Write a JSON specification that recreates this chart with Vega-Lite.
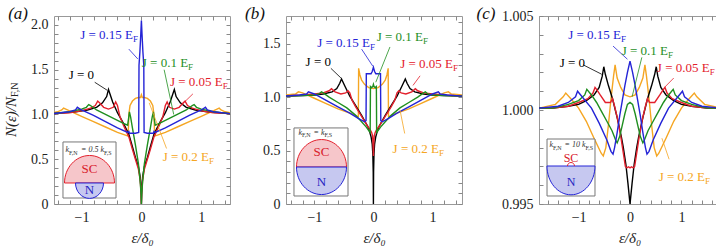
{
"$schema":"https://vega.github.io/schema/vega-lite/v6.json",
"background":"white",
"padding":{"left":3,"top":4,"right":0,"bottom":0},
"spacing":13,
"config":{
 "font":"Liberation Serif, Times New Roman, DejaVu Serif, serif",
 "view":{"stroke":"#999","strokeWidth":1},
 "axis":{"domain":false,"grid":false,"labelFont":"Liberation Serif, Times New Roman, DejaVu Serif, serif","labelFontSize":14,"labelColor":"#222","tickColor":"#888","tickSize":-4,"labelPadding":10,"labelOverlap":false,"labelFlush":false,"titleFont":"Liberation Serif, Times New Roman, DejaVu Serif, serif","titleFontSize":15,"titleFontStyle":"italic","titleFontWeight":"normal","titleColor":"#222","titlePadding":6},
 "text":{"font":"Liberation Serif, Times New Roman, DejaVu Serif, serif"}
},
"datasets":{
"aL":[
{"J":"0.2","x":-1.48,"y":1.02},{"J":"0.2","x":-1.4,"y":1.03},{"J":"0.2","x":-1.33,"y":1.05},{"J":"0.2","x":-1.3,"y":1.07},{"J":"0.2","x":-1.2,"y":1.04},{"J":"0.2","x":-1.0,"y":0.98},{"J":"0.2","x":-0.8,"y":0.92},{"J":"0.2","x":-0.6,"y":0.86},{"J":"0.2","x":-0.4,"y":0.8},{"J":"0.2","x":-0.23,"y":0.76},{"J":"0.2","x":-0.22,"y":0.78},{"J":"0.2","x":-0.21,"y":1.0},{"J":"0.2","x":-0.19,"y":1.1},{"J":"0.2","x":-0.15,"y":1.15},{"J":"0.2","x":-0.1,"y":1.18},{"J":"0.2","x":-0.05,"y":1.19},{"J":"0.2","x":-0.015,"y":1.19},{"J":"0.2","x":0,"y":1.22},{"J":"0.2","x":0.015,"y":1.19},{"J":"0.2","x":0.05,"y":1.19},{"J":"0.2","x":0.1,"y":1.18},{"J":"0.2","x":0.15,"y":1.15},{"J":"0.2","x":0.19,"y":1.1},{"J":"0.2","x":0.21,"y":1.0},{"J":"0.2","x":0.22,"y":0.78},{"J":"0.2","x":0.23,"y":0.76},{"J":"0.2","x":0.4,"y":0.8},{"J":"0.2","x":0.6,"y":0.86},{"J":"0.2","x":0.8,"y":0.92},{"J":"0.2","x":1.0,"y":0.98},{"J":"0.2","x":1.2,"y":1.04},{"J":"0.2","x":1.3,"y":1.07},{"J":"0.2","x":1.33,"y":1.05},{"J":"0.2","x":1.4,"y":1.03},{"J":"0.2","x":1.48,"y":1.02},
{"J":"0","x":-1.48,"y":1.01},{"J":"0","x":-1.3,"y":1.02},{"J":"0","x":-1.1,"y":1.03},{"J":"0","x":-0.9,"y":1.05},{"J":"0","x":-0.75,"y":1.08},{"J":"0","x":-0.65,"y":1.13},{"J":"0","x":-0.58,"y":1.2},{"J":"0","x":-0.55,"y":1.28},{"J":"0","x":-0.48,"y":1.14},{"J":"0","x":-0.4,"y":1.02},{"J":"0","x":-0.3,"y":0.9},{"J":"0","x":-0.21,"y":0.78},{"J":"0","x":-0.15,"y":0.64},{"J":"0","x":-0.1,"y":0.52},{"J":"0","x":-0.05,"y":0.42},{"J":"0","x":-0.02,"y":0.3},{"J":"0","x":-0.005,"y":0.15},{"J":"0","x":0,"y":0},{"J":"0","x":0.005,"y":0.15},{"J":"0","x":0.02,"y":0.3},{"J":"0","x":0.05,"y":0.42},{"J":"0","x":0.1,"y":0.52},{"J":"0","x":0.15,"y":0.64},{"J":"0","x":0.21,"y":0.78},{"J":"0","x":0.3,"y":0.9},{"J":"0","x":0.4,"y":1.02},{"J":"0","x":0.48,"y":1.14},{"J":"0","x":0.55,"y":1.28},{"J":"0","x":0.58,"y":1.2},{"J":"0","x":0.65,"y":1.13},{"J":"0","x":0.75,"y":1.08},{"J":"0","x":0.9,"y":1.05},{"J":"0","x":1.1,"y":1.03},{"J":"0","x":1.3,"y":1.02},{"J":"0","x":1.48,"y":1.01},
{"J":"0.05","x":-1.48,"y":1.01},{"J":"0.05","x":-1.2,"y":1.02},{"J":"0.05","x":-1.0,"y":1.04},{"J":"0.05","x":-0.85,"y":1.07},{"J":"0.05","x":-0.77,"y":1.1},{"J":"0.05","x":-0.73,"y":1.15},{"J":"0.05","x":-0.7,"y":1.13},{"J":"0.05","x":-0.63,"y":1.08},{"J":"0.05","x":-0.55,"y":1.06},{"J":"0.05","x":-0.47,"y":1.08},{"J":"0.05","x":-0.43,"y":1.14},{"J":"0.05","x":-0.4,"y":1.1},{"J":"0.05","x":-0.36,"y":0.98},{"J":"0.05","x":-0.3,"y":0.88},{"J":"0.05","x":-0.21,"y":0.75},{"J":"0.05","x":-0.15,"y":0.61},{"J":"0.05","x":-0.1,"y":0.5},{"J":"0.05","x":-0.05,"y":0.39},{"J":"0.05","x":-0.02,"y":0.27},{"J":"0.05","x":-0.005,"y":0.12},{"J":"0.05","x":0,"y":0},{"J":"0.05","x":0.005,"y":0.12},{"J":"0.05","x":0.02,"y":0.27},{"J":"0.05","x":0.05,"y":0.39},{"J":"0.05","x":0.1,"y":0.5},{"J":"0.05","x":0.15,"y":0.61},{"J":"0.05","x":0.21,"y":0.75},{"J":"0.05","x":0.3,"y":0.88},{"J":"0.05","x":0.36,"y":0.98},{"J":"0.05","x":0.4,"y":1.1},{"J":"0.05","x":0.43,"y":1.14},{"J":"0.05","x":0.47,"y":1.08},{"J":"0.05","x":0.55,"y":1.06},{"J":"0.05","x":0.63,"y":1.08},{"J":"0.05","x":0.7,"y":1.13},{"J":"0.05","x":0.73,"y":1.15},{"J":"0.05","x":0.77,"y":1.1},{"J":"0.05","x":0.85,"y":1.07},{"J":"0.05","x":1.0,"y":1.04},{"J":"0.05","x":1.2,"y":1.02},{"J":"0.05","x":1.48,"y":1.01},
{"J":"0.1","x":-1.48,"y":1.01},{"J":"0.1","x":-1.2,"y":1.03},{"J":"0.1","x":-1.0,"y":1.06},{"J":"0.1","x":-0.92,"y":1.08},{"J":"0.1","x":-0.88,"y":1.11},{"J":"0.1","x":-0.85,"y":1.1},{"J":"0.1","x":-0.75,"y":1.05},{"J":"0.1","x":-0.6,"y":1.0},{"J":"0.1","x":-0.45,"y":0.95},{"J":"0.1","x":-0.3,"y":0.9},{"J":"0.1","x":-0.23,"y":0.88},{"J":"0.1","x":-0.215,"y":0.95},{"J":"0.1","x":-0.2,"y":1.03},{"J":"0.1","x":-0.18,"y":0.97},{"J":"0.1","x":-0.15,"y":0.85},{"J":"0.1","x":-0.1,"y":0.66},{"J":"0.1","x":-0.05,"y":0.45},{"J":"0.1","x":-0.02,"y":0.25},{"J":"0.1","x":-0.005,"y":0.1},{"J":"0.1","x":0,"y":0},{"J":"0.1","x":0.005,"y":0.1},{"J":"0.1","x":0.02,"y":0.25},{"J":"0.1","x":0.05,"y":0.45},{"J":"0.1","x":0.1,"y":0.66},{"J":"0.1","x":0.15,"y":0.85},{"J":"0.1","x":0.18,"y":0.97},{"J":"0.1","x":0.2,"y":1.03},{"J":"0.1","x":0.215,"y":0.95},{"J":"0.1","x":0.23,"y":0.88},{"J":"0.1","x":0.3,"y":0.9},{"J":"0.1","x":0.45,"y":0.95},{"J":"0.1","x":0.6,"y":1.0},{"J":"0.1","x":0.75,"y":1.05},{"J":"0.1","x":0.85,"y":1.1},{"J":"0.1","x":0.88,"y":1.11},{"J":"0.1","x":0.92,"y":1.08},{"J":"0.1","x":1.0,"y":1.06},{"J":"0.1","x":1.2,"y":1.03},{"J":"0.1","x":1.48,"y":1.01},
{"J":"0.15","x":-1.48,"y":1.01},{"J":"0.15","x":-1.2,"y":1.03},{"J":"0.15","x":-1.1,"y":1.05},{"J":"0.15","x":-1.07,"y":1.08},{"J":"0.15","x":-1.0,"y":1.05},{"J":"0.15","x":-0.8,"y":0.99},{"J":"0.15","x":-0.6,"y":0.92},{"J":"0.15","x":-0.4,"y":0.85},{"J":"0.15","x":-0.23,"y":0.8},{"J":"0.15","x":-0.21,"y":0.81},{"J":"0.15","x":-0.2,"y":0.79},{"J":"0.15","x":-0.1,"y":0.79},{"J":"0.15","x":-0.045,"y":0.8},{"J":"0.15","x":-0.04,"y":1.55},{"J":"0.15","x":-0.025,"y":1.7},{"J":"0.15","x":-0.01,"y":1.9},{"J":"0.15","x":0,"y":2.05},{"J":"0.15","x":0.01,"y":1.9},{"J":"0.15","x":0.025,"y":1.7},{"J":"0.15","x":0.04,"y":1.55},{"J":"0.15","x":0.045,"y":0.8},{"J":"0.15","x":0.1,"y":0.79},{"J":"0.15","x":0.2,"y":0.79},{"J":"0.15","x":0.21,"y":0.81},{"J":"0.15","x":0.23,"y":0.8},{"J":"0.15","x":0.4,"y":0.85},{"J":"0.15","x":0.6,"y":0.92},{"J":"0.15","x":0.8,"y":0.99},{"J":"0.15","x":1.0,"y":1.05},{"J":"0.15","x":1.07,"y":1.08},{"J":"0.15","x":1.1,"y":1.05},{"J":"0.15","x":1.2,"y":1.03},{"J":"0.15","x":1.48,"y":1.01}
],
"aA":[
{"J":"0.15","x":-0.21,"y":1.73,"x2":-0.06,"y2":1.62},
{"J":"0.1","x":0.38,"y":1.5,"x2":0.54,"y2":1.0},
{"J":"0.05","x":0.86,"y":1.23,"x2":0.69,"y2":1.12},
{"J":"0","x":-0.78,"y":1.36,"x2":-0.57,"y2":1.27},
{"J":"0.2","x":0.42,"y":0.62,"x2":0.13,"y2":1.13}
],
"aT":[
{"J":"0.15","x":-0.14,"y":1.888,"m":"J = 0.15 E","s":"F"},
{"J":"0.1","x":0.78,"y":1.575,"m":"J = 0.1 E","s":"F"},
{"J":"0.05","x":1.36,"y":1.363,"m":"J = 0.05 E","s":"F"},
{"J":"0","x":-0.79,"y":1.441,"m":"J = 0","s":""},
{"J":"0.2","x":1.13,"y":0.525,"m":"J = 0.2 E","s":"F"}
],
"aI":[
{"k":"hm","x":-1.21,"y":0.603,"t":"k"},
{"k":"hs","x":-1.21,"y":0.603,"t":"F,N"},
{"k":"hm","x":-0.625,"y":0.603,"t":" = 0.5 k"},
{"k":"hs","x":-0.625,"y":0.603,"t":"F,S"},
{"k":"SC","x":-0.867,"y":0.391,"t":"SC"},
{"k":"N","x":-0.867,"y":0.156,"t":"N"},
{"k":"lt","x":-2.06,"y":2.122,"t":"(a)"},
{"k":"ym","x":-2.178,"y":1.195,"t":"N(ε)/N"},
{"k":"ys","x":-2.178,"y":1.195,"t":"F,N"}
],
"aB":[{"x":-1.31,"y":0.693,"x2":-0.424,"y2":0.067}],
"aP":[{"x":-0.867,"y":0.2346}],
"bL":[
{"J":"0.2","x":-1.5,"y":1.02},{"J":"0.2","x":-1.32,"y":1.03},{"J":"0.2","x":-1.27,"y":1.05},{"J":"0.2","x":-1.2,"y":1.04},{"J":"0.2","x":-1.0,"y":0.99},{"J":"0.2","x":-0.8,"y":0.94},{"J":"0.2","x":-0.6,"y":0.89},{"J":"0.2","x":-0.4,"y":0.85},{"J":"0.2","x":-0.27,"y":0.82},{"J":"0.2","x":-0.255,"y":0.82},{"J":"0.2","x":-0.25,"y":1.27},{"J":"0.2","x":-0.23,"y":1.21},{"J":"0.2","x":-0.2,"y":1.16},{"J":"0.2","x":-0.15,"y":1.12},{"J":"0.2","x":-0.08,"y":1.09},{"J":"0.2","x":0,"y":1.08},{"J":"0.2","x":0.08,"y":1.09},{"J":"0.2","x":0.15,"y":1.12},{"J":"0.2","x":0.2,"y":1.16},{"J":"0.2","x":0.23,"y":1.21},{"J":"0.2","x":0.25,"y":1.27},{"J":"0.2","x":0.255,"y":0.82},{"J":"0.2","x":0.27,"y":0.82},{"J":"0.2","x":0.4,"y":0.85},{"J":"0.2","x":0.6,"y":0.89},{"J":"0.2","x":0.8,"y":0.94},{"J":"0.2","x":1.0,"y":0.99},{"J":"0.2","x":1.2,"y":1.04},{"J":"0.2","x":1.27,"y":1.05},{"J":"0.2","x":1.32,"y":1.03},{"J":"0.2","x":1.5,"y":1.02},
{"J":"0","x":-1.5,"y":1.01},{"J":"0","x":-1.2,"y":1.015},{"J":"0","x":-1.0,"y":1.02},{"J":"0","x":-0.85,"y":1.03},{"J":"0","x":-0.7,"y":1.05},{"J":"0","x":-0.62,"y":1.08},{"J":"0","x":-0.57,"y":1.13},{"J":"0","x":-0.54,"y":1.17},{"J":"0","x":-0.48,"y":1.1},{"J":"0","x":-0.4,"y":1.01},{"J":"0","x":-0.3,"y":0.92},{"J":"0","x":-0.2,"y":0.83},{"J":"0","x":-0.1,"y":0.73},{"J":"0","x":-0.07,"y":0.69},{"J":"0","x":-0.04,"y":0.63},{"J":"0","x":-0.02,"y":0.56},{"J":"0","x":-0.01,"y":0.47},{"J":"0","x":-0.003,"y":0.3},{"J":"0","x":0,"y":0},{"J":"0","x":0.003,"y":0.3},{"J":"0","x":0.01,"y":0.47},{"J":"0","x":0.02,"y":0.56},{"J":"0","x":0.04,"y":0.63},{"J":"0","x":0.07,"y":0.69},{"J":"0","x":0.1,"y":0.73},{"J":"0","x":0.2,"y":0.83},{"J":"0","x":0.3,"y":0.92},{"J":"0","x":0.4,"y":1.01},{"J":"0","x":0.48,"y":1.1},{"J":"0","x":0.54,"y":1.17},{"J":"0","x":0.57,"y":1.13},{"J":"0","x":0.62,"y":1.08},{"J":"0","x":0.7,"y":1.05},{"J":"0","x":0.85,"y":1.03},{"J":"0","x":1.0,"y":1.02},{"J":"0","x":1.2,"y":1.015},{"J":"0","x":1.5,"y":1.01},
{"J":"0.05","x":-1.5,"y":1.01},{"J":"0.05","x":-1.2,"y":1.02},{"J":"0.05","x":-1.0,"y":1.03},{"J":"0.05","x":-0.85,"y":1.04},{"J":"0.05","x":-0.75,"y":1.06},{"J":"0.05","x":-0.71,"y":1.08},{"J":"0.05","x":-0.65,"y":1.05},{"J":"0.05","x":-0.55,"y":1.03},{"J":"0.05","x":-0.47,"y":1.04},{"J":"0.05","x":-0.43,"y":1.06},{"J":"0.05","x":-0.4,"y":1.04},{"J":"0.05","x":-0.36,"y":0.97},{"J":"0.05","x":-0.3,"y":0.91},{"J":"0.05","x":-0.2,"y":0.82},{"J":"0.05","x":-0.1,"y":0.73},{"J":"0.05","x":-0.06,"y":0.7},{"J":"0.05","x":-0.03,"y":0.67},{"J":"0.05","x":-0.015,"y":0.64},{"J":"0.05","x":-0.008,"y":0.58},{"J":"0.05","x":-0.003,"y":0.5},{"J":"0.05","x":0,"y":0.45},{"J":"0.05","x":0.003,"y":0.5},{"J":"0.05","x":0.008,"y":0.58},{"J":"0.05","x":0.015,"y":0.64},{"J":"0.05","x":0.03,"y":0.67},{"J":"0.05","x":0.06,"y":0.7},{"J":"0.05","x":0.1,"y":0.73},{"J":"0.05","x":0.2,"y":0.82},{"J":"0.05","x":0.3,"y":0.91},{"J":"0.05","x":0.36,"y":0.97},{"J":"0.05","x":0.4,"y":1.04},{"J":"0.05","x":0.43,"y":1.06},{"J":"0.05","x":0.47,"y":1.04},{"J":"0.05","x":0.55,"y":1.03},{"J":"0.05","x":0.65,"y":1.05},{"J":"0.05","x":0.71,"y":1.08},{"J":"0.05","x":0.75,"y":1.06},{"J":"0.05","x":0.85,"y":1.04},{"J":"0.05","x":1.0,"y":1.03},{"J":"0.05","x":1.2,"y":1.02},{"J":"0.05","x":1.5,"y":1.01},
{"J":"0.1","x":-1.5,"y":1.01},{"J":"0.1","x":-1.2,"y":1.015},{"J":"0.1","x":-1.0,"y":1.02},{"J":"0.1","x":-0.92,"y":1.03},{"J":"0.1","x":-0.88,"y":1.05},{"J":"0.1","x":-0.85,"y":1.04},{"J":"0.1","x":-0.75,"y":1.0},{"J":"0.1","x":-0.6,"y":0.95},{"J":"0.1","x":-0.45,"y":0.9},{"J":"0.1","x":-0.3,"y":0.83},{"J":"0.1","x":-0.2,"y":0.77},{"J":"0.1","x":-0.12,"y":0.72},{"J":"0.1","x":-0.07,"y":0.68},{"J":"0.1","x":-0.055,"y":0.67},{"J":"0.1","x":-0.05,"y":1.1},{"J":"0.1","x":-0.03,"y":1.09},{"J":"0.1","x":-0.01,"y":1.1},{"J":"0.1","x":0,"y":1.12},{"J":"0.1","x":0.01,"y":1.1},{"J":"0.1","x":0.03,"y":1.09},{"J":"0.1","x":0.05,"y":1.1},{"J":"0.1","x":0.055,"y":0.67},{"J":"0.1","x":0.07,"y":0.68},{"J":"0.1","x":0.12,"y":0.72},{"J":"0.1","x":0.2,"y":0.77},{"J":"0.1","x":0.3,"y":0.83},{"J":"0.1","x":0.45,"y":0.9},{"J":"0.1","x":0.6,"y":0.95},{"J":"0.1","x":0.75,"y":1.0},{"J":"0.1","x":0.85,"y":1.04},{"J":"0.1","x":0.88,"y":1.05},{"J":"0.1","x":0.92,"y":1.03},{"J":"0.1","x":1.0,"y":1.02},{"J":"0.1","x":1.2,"y":1.015},{"J":"0.1","x":1.5,"y":1.01},
{"J":"0.15","x":-1.5,"y":1.01},{"J":"0.15","x":-1.25,"y":1.02},{"J":"0.15","x":-1.13,"y":1.03},{"J":"0.15","x":-1.1,"y":1.05},{"J":"0.15","x":-1.0,"y":1.03},{"J":"0.15","x":-0.8,"y":0.97},{"J":"0.15","x":-0.6,"y":0.91},{"J":"0.15","x":-0.4,"y":0.85},{"J":"0.15","x":-0.25,"y":0.8},{"J":"0.15","x":-0.15,"y":0.77},{"J":"0.15","x":-0.125,"y":0.78},{"J":"0.15","x":-0.12,"y":1.22},{"J":"0.15","x":-0.04,"y":1.22},{"J":"0.15","x":-0.02,"y":1.24},{"J":"0.15","x":0,"y":1.28},{"J":"0.15","x":0.02,"y":1.24},{"J":"0.15","x":0.04,"y":1.22},{"J":"0.15","x":0.12,"y":1.22},{"J":"0.15","x":0.125,"y":0.78},{"J":"0.15","x":0.15,"y":0.77},{"J":"0.15","x":0.25,"y":0.8},{"J":"0.15","x":0.4,"y":0.85},{"J":"0.15","x":0.6,"y":0.91},{"J":"0.15","x":0.8,"y":0.97},{"J":"0.15","x":1.0,"y":1.03},{"J":"0.15","x":1.1,"y":1.05},{"J":"0.15","x":1.13,"y":1.03},{"J":"0.15","x":1.25,"y":1.02},{"J":"0.15","x":1.5,"y":1.01}
],
"bA":[
{"J":"0.15","x":-0.2,"y":1.45,"x2":-0.01,"y2":1.29},
{"J":"0.1","x":0.28,"y":1.47,"x2":0.04,"y2":1.14},
{"J":"0.05","x":0.79,"y":1.2,"x2":0.67,"y2":1.11},
{"J":"0","x":-0.72,"y":1.27,"x2":-0.55,"y2":1.18},
{"J":"0.2","x":0.53,"y":0.66,"x2":0.45,"y2":0.88}
],
"bT":[
{"J":"0.15","x":-0.058,"y":1.507,"m":"J = 0.15 E","s":"F"},
{"J":"0.1","x":0.84,"y":1.564,"m":"J = 0.1 E","s":"F"},
{"J":"0.05","x":1.348,"y":1.311,"m":"J = 0.05 E","s":"F"},
{"J":"0","x":-0.718,"y":1.33,"m":"J = 0","s":""},
{"J":"0.2","x":1.11,"y":0.515,"m":"J = 0.2 E","s":"F"}
],
"bI":[
{"k":"hm","x":-1.209,"y":0.665,"t":"k"},
{"k":"hs","x":-1.209,"y":0.665,"t":"F,N"},
{"k":"hm","x":-0.828,"y":0.665,"t":" = k"},
{"k":"hs","x":-0.828,"y":0.665,"t":"F,S"},
{"k":"SC","x":-0.879,"y":0.487,"t":"SC"},
{"k":"N","x":-0.879,"y":0.206,"t":"N"},
{"k":"lt","x":-2.005,"y":1.779,"t":"(b)"}
],
"bB":[{"x":-1.345,"y":0.712,"x2":-0.43,"y2":0.075}],
"bP":[{"x":-0.879,"y":0.346}],
"cL":[
{"J":"0.2","x":-1.77,"y":1.0001},{"J":"0.2","x":-1.45,"y":1.0003},{"J":"0.2","x":-1.3,"y":1.0007},{"J":"0.2","x":-1.25,"y":1.0009},{"J":"0.2","x":-1.15,"y":1.0006},{"J":"0.2","x":-1.0,"y":1.0001},{"J":"0.2","x":-0.85,"y":0.9994},{"J":"0.2","x":-0.7,"y":0.9985},{"J":"0.2","x":-0.56,"y":0.9977},{"J":"0.2","x":-0.52,"y":0.99755},{"J":"0.2","x":-0.47,"y":0.998},{"J":"0.2","x":-0.42,"y":0.9992},{"J":"0.2","x":-0.37,"y":1.0006},{"J":"0.2","x":-0.32,"y":1.0018},{"J":"0.2","x":-0.29,"y":1.0024},{"J":"0.2","x":-0.25,"y":1.0017},{"J":"0.2","x":-0.18,"y":1.0012},{"J":"0.2","x":-0.1,"y":1.0008},{"J":"0.2","x":0,"y":1.0007},{"J":"0.2","x":0.1,"y":1.0008},{"J":"0.2","x":0.18,"y":1.0012},{"J":"0.2","x":0.25,"y":1.0017},{"J":"0.2","x":0.29,"y":1.0024},{"J":"0.2","x":0.32,"y":1.0018},{"J":"0.2","x":0.37,"y":1.0006},{"J":"0.2","x":0.42,"y":0.9992},{"J":"0.2","x":0.47,"y":0.998},{"J":"0.2","x":0.52,"y":0.99755},{"J":"0.2","x":0.56,"y":0.9977},{"J":"0.2","x":0.7,"y":0.9985},{"J":"0.2","x":0.85,"y":0.9994},{"J":"0.2","x":1.0,"y":1.0001},{"J":"0.2","x":1.15,"y":1.0006},{"J":"0.2","x":1.25,"y":1.0009},{"J":"0.2","x":1.3,"y":1.0007},{"J":"0.2","x":1.45,"y":1.0003},{"J":"0.2","x":1.77,"y":1.0001},
{"J":"0","x":-1.77,"y":1.0001},{"J":"0","x":-1.5,"y":1.0001},{"J":"0","x":-1.2,"y":1.0002},{"J":"0","x":-1.0,"y":1.0003},{"J":"0","x":-0.85,"y":1.0005},{"J":"0","x":-0.7,"y":1.0008},{"J":"0","x":-0.6,"y":1.0012},{"J":"0","x":-0.54,"y":1.0018},{"J":"0","x":-0.51,"y":1.0023},{"J":"0","x":-0.48,"y":1.0019},{"J":"0","x":-0.42,"y":1.0013},{"J":"0","x":-0.34,"y":1.0006},{"J":"0","x":-0.25,"y":0.9996},{"J":"0","x":-0.17,"y":0.9986},{"J":"0","x":-0.13,"y":0.998},{"J":"0","x":-0.08,"y":0.9971},{"J":"0","x":-0.04,"y":0.9961},{"J":"0","x":0,"y":0.995},{"J":"0","x":0.04,"y":0.9961},{"J":"0","x":0.08,"y":0.9971},{"J":"0","x":0.13,"y":0.998},{"J":"0","x":0.17,"y":0.9986},{"J":"0","x":0.25,"y":0.9996},{"J":"0","x":0.34,"y":1.0006},{"J":"0","x":0.42,"y":1.0013},{"J":"0","x":0.48,"y":1.0019},{"J":"0","x":0.51,"y":1.0023},{"J":"0","x":0.54,"y":1.0018},{"J":"0","x":0.6,"y":1.0012},{"J":"0","x":0.7,"y":1.0008},{"J":"0","x":0.85,"y":1.0005},{"J":"0","x":1.0,"y":1.0003},{"J":"0","x":1.2,"y":1.0002},{"J":"0","x":1.5,"y":1.0001},{"J":"0","x":1.77,"y":1.0001},
{"J":"0.05","x":-1.77,"y":1.0001},{"J":"0.05","x":-1.5,"y":1.0001},{"J":"0.05","x":-1.2,"y":1.0002},{"J":"0.05","x":-1.0,"y":1.0004},{"J":"0.05","x":-0.82,"y":1.0006},{"J":"0.05","x":-0.72,"y":1.0009},{"J":"0.05","x":-0.68,"y":1.0012},{"J":"0.05","x":-0.65,"y":1.0011},{"J":"0.05","x":-0.58,"y":1.0008},{"J":"0.05","x":-0.48,"y":1.0004},{"J":"0.05","x":-0.38,"y":1.0004},{"J":"0.05","x":-0.34,"y":1.0006},{"J":"0.05","x":-0.3,"y":1.0002},{"J":"0.05","x":-0.24,"y":0.9995},{"J":"0.05","x":-0.18,"y":0.9986},{"J":"0.05","x":-0.13,"y":0.9977},{"J":"0.05","x":-0.09,"y":0.997},{"J":"0.05","x":-0.06,"y":0.99692},{"J":"0.05","x":-0.03,"y":0.99698},{"J":"0.05","x":0,"y":0.99692},{"J":"0.05","x":0.03,"y":0.99698},{"J":"0.05","x":0.06,"y":0.99692},{"J":"0.05","x":0.09,"y":0.997},{"J":"0.05","x":0.13,"y":0.9977},{"J":"0.05","x":0.18,"y":0.9986},{"J":"0.05","x":0.24,"y":0.9995},{"J":"0.05","x":0.3,"y":1.0002},{"J":"0.05","x":0.34,"y":1.0006},{"J":"0.05","x":0.38,"y":1.0004},{"J":"0.05","x":0.48,"y":1.0004},{"J":"0.05","x":0.58,"y":1.0008},{"J":"0.05","x":0.65,"y":1.0011},{"J":"0.05","x":0.68,"y":1.0012},{"J":"0.05","x":0.72,"y":1.0009},{"J":"0.05","x":0.82,"y":1.0006},{"J":"0.05","x":1.0,"y":1.0004},{"J":"0.05","x":1.2,"y":1.0002},{"J":"0.05","x":1.5,"y":1.0001},{"J":"0.05","x":1.77,"y":1.0001},
{"J":"0.1","x":-1.77,"y":1.0001},{"J":"0.1","x":-1.5,"y":1.0001},{"J":"0.1","x":-1.2,"y":1.0003},{"J":"0.1","x":-1.0,"y":1.0005},{"J":"0.1","x":-0.88,"y":1.0008},{"J":"0.1","x":-0.84,"y":1.0011},{"J":"0.1","x":-0.75,"y":1.0008},{"J":"0.1","x":-0.65,"y":1.0004},{"J":"0.1","x":-0.55,"y":0.9999},{"J":"0.1","x":-0.45,"y":0.9994},{"J":"0.1","x":-0.35,"y":0.9989},{"J":"0.1","x":-0.28,"y":0.9984},{"J":"0.1","x":-0.25,"y":0.99825},{"J":"0.1","x":-0.2,"y":0.9986},{"J":"0.1","x":-0.15,"y":0.9992},{"J":"0.1","x":-0.1,"y":0.9998},{"J":"0.1","x":-0.05,"y":1.0003},{"J":"0.1","x":0,"y":1.0004},{"J":"0.1","x":0.05,"y":1.0003},{"J":"0.1","x":0.1,"y":0.9998},{"J":"0.1","x":0.15,"y":0.9992},{"J":"0.1","x":0.2,"y":0.9986},{"J":"0.1","x":0.25,"y":0.99825},{"J":"0.1","x":0.28,"y":0.9984},{"J":"0.1","x":0.35,"y":0.9989},{"J":"0.1","x":0.45,"y":0.9994},{"J":"0.1","x":0.55,"y":0.9999},{"J":"0.1","x":0.65,"y":1.0004},{"J":"0.1","x":0.75,"y":1.0008},{"J":"0.1","x":0.84,"y":1.0011},{"J":"0.1","x":0.88,"y":1.0008},{"J":"0.1","x":1.0,"y":1.0005},{"J":"0.1","x":1.2,"y":1.0003},{"J":"0.1","x":1.5,"y":1.0001},{"J":"0.1","x":1.77,"y":1.0001},
{"J":"0.15","x":-1.77,"y":1.0001},{"J":"0.15","x":-1.4,"y":1.0002},{"J":"0.15","x":-1.2,"y":1.0004},{"J":"0.15","x":-1.06,"y":1.0007},{"J":"0.15","x":-1.02,"y":1.001},{"J":"0.15","x":-0.9,"y":1.0006},{"J":"0.15","x":-0.75,"y":1.0001},{"J":"0.15","x":-0.6,"y":0.9993},{"J":"0.15","x":-0.45,"y":0.9984},{"J":"0.15","x":-0.37,"y":0.9978},{"J":"0.15","x":-0.33,"y":0.99765},{"J":"0.15","x":-0.3,"y":0.998},{"J":"0.15","x":-0.25,"y":0.9988},{"J":"0.15","x":-0.2,"y":0.9997},{"J":"0.15","x":-0.15,"y":1.0005},{"J":"0.15","x":-0.1,"y":1.0013},{"J":"0.15","x":-0.05,"y":1.002},{"J":"0.15","x":0,"y":1.0026},{"J":"0.15","x":0.05,"y":1.002},{"J":"0.15","x":0.1,"y":1.0013},{"J":"0.15","x":0.15,"y":1.0005},{"J":"0.15","x":0.2,"y":0.9997},{"J":"0.15","x":0.25,"y":0.9988},{"J":"0.15","x":0.3,"y":0.998},{"J":"0.15","x":0.33,"y":0.99765},{"J":"0.15","x":0.37,"y":0.9978},{"J":"0.15","x":0.45,"y":0.9984},{"J":"0.15","x":0.6,"y":0.9993},{"J":"0.15","x":0.75,"y":1.0001},{"J":"0.15","x":0.9,"y":1.0006},{"J":"0.15","x":1.02,"y":1.001},{"J":"0.15","x":1.06,"y":1.0007},{"J":"0.15","x":1.2,"y":1.0004},{"J":"0.15","x":1.4,"y":1.0002},{"J":"0.15","x":1.77,"y":1.0001}
],
"cA":[
{"J":"0.15","x":-0.33,"y":1.0034,"x2":-0.05,"y2":1.0027},
{"J":"0.1","x":0.23,"y":1.0028,"x2":0.04,"y2":1.0007},
{"J":"0.05","x":0.85,"y":1.0017,"x2":0.67,"y2":1.0012},
{"J":"0","x":-0.91,"y":1.0024,"x2":-0.55,"y2":1.0019},
{"J":"0.2","x":0.76,"y":0.99738,"x2":0.62,"y2":0.9985}
],
"cT":[
{"J":"0.15","x":-0.175,"y":1.00399,"m":"J = 0.15 E","s":"F"},
{"J":"0.1","x":0.739,"y":1.003138,"m":"J = 0.1 E","s":"F"},
{"J":"0.05","x":1.55,"y":1.002234,"m":"J = 0.05 E","s":"F"},
{"J":"0","x":-0.875,"y":1.0025,"m":"J = 0","s":""},
{"J":"0.2","x":1.458,"y":0.996436,"m":"J = 0.2 E","s":"F"}
],
"cI":[
{"k":"hm","x":-1.498,"y":0.998138,"t":"k"},
{"k":"hs","x":-1.498,"y":0.998138,"t":"F,N"},
{"k":"hm","x":-0.866,"y":0.998138,"t":" = 10 k"},
{"k":"hs","x":-0.866,"y":0.998138,"t":"F,S"},
{"k":"SC","x":-1.148,"y":0.997447,"t":"SC"},
{"k":"N","x":-1.148,"y":0.99617,"t":"N"},
{"k":"lt","x":-2.8,"y":1.005106,"t":"(c)"}
],
"cB":[{"x":-1.614,"y":0.998457,"x2":-0.681,"y2":0.995426}],
"cP":[{"x":-1.148,"y":0.997021}]
},
"hconcat":[
{
 "width":176,"height":188,
 "resolve":{"axis":{"x":"independent","y":"independent"}},
 "encoding":{
  "x":{"field":"x","type":"quantitative","scale":{"domain":[-1.46,1.48],"nice":false,"zero":false},"axis":null},
  "y":{"field":"y","type":"quantitative","scale":{"domain":[0,2.1],"nice":false,"zero":false},"axis":null}
 },
 "layer":[
  {"data":{"name":"aL"},"mark":{"type":"line","strokeWidth":1.4,"clip":true},
   "encoding":{
    "x":{"field":"x","type":"quantitative","scale":{"domain":[-1.46,1.48],"nice":false,"zero":false},"axis":{"values":[-1.4,-1.2,-1,-0.8,-0.6,-0.4,-0.2,0,0.2,0.4,0.6,0.8,1,1.2,1.4],"labelExpr":"abs(datum.value - round(datum.value)) < 0.000001 ? format(datum.value, 'd') : ''","title":"ε/δ₀"}},
    "y":{"field":"y","type":"quantitative","scale":{"domain":[0,2.1],"nice":false,"zero":false},"axis":{"values":[0,0.1,0.2,0.3,0.4,0.5,0.6,0.7,0.8,0.9,1,1.1,1.2,1.3,1.4,1.5,1.6,1.7,1.8,1.9,2],"labelExpr":"datum.value === 0 ? '0' : (abs(datum.value * 2 - round(datum.value * 2)) < 0.000001 ? format(datum.value, '.1f') : '')","title":null}},
    "color":{"field":"J","type":"nominal","scale":{"domain":["0","0.05","0.1","0.15","0.2"],"range":["#000000","#e3202c","#1f8f1f","#2424d6","#f5a623"]},"legend":null}
   }},
  {"data":{"name":"aA"},"mark":{"type":"rule","strokeWidth":0.8},
   "encoding":{
    "x":{"field":"x","type":"quantitative","scale":{"domain":[-1.46,1.48],"nice":false,"zero":false},"axis":{"orient":"top","values":[-1.4,-1.2,-1,-0.8,-0.6,-0.4,-0.2,0,0.2,0.4,0.6,0.8,1,1.2,1.4],"labels":false,"title":null}},
    "y":{"field":"y","type":"quantitative","scale":{"domain":[0,2.1],"nice":false,"zero":false},"axis":{"orient":"right","values":[0,0.1,0.2,0.3,0.4,0.5,0.6,0.7,0.8,0.9,1,1.1,1.2,1.3,1.4,1.5,1.6,1.7,1.8,1.9,2],"labels":false,"title":null}},
    "x2":{"field":"x2"},"y2":{"field":"y2"},
    "color":{"field":"J","type":"nominal","scale":{"domain":["0","0.05","0.1","0.15","0.2"],"range":["#000000","#e3202c","#1f8f1f","#2424d6","#f5a623"]},"legend":null}
   }},
  {"data":{"name":"aT"},"mark":{"type":"text","align":"right","baseline":"middle","fontSize":13},
   "encoding":{"text":{"field":"m"},"color":{"field":"J","type":"nominal","scale":{"domain":["0","0.05","0.1","0.15","0.2"],"range":["#000000","#e3202c","#1f8f1f","#2424d6","#f5a623"]},"legend":null}}},
  {"data":{"name":"aT"},"mark":{"type":"text","align":"left","baseline":"middle","fontSize":9,"dy":4},
   "encoding":{"text":{"field":"s"},"color":{"field":"J","type":"nominal","scale":{"domain":["0","0.05","0.1","0.15","0.2"],"range":["#000000","#e3202c","#1f8f1f","#2424d6","#f5a623"]},"legend":null}}},
  {"data":{"name":"aB"},"mark":{"type":"rect","fill":"white","stroke":"#777","strokeWidth":1},
   "encoding":{"x2":{"field":"x2"},"y2":{"field":"y2"}}},
  {"data":{"name":"aP"},"mark":{"type":"point","shape":"M-1,0A1,1.1,0,0,1,1,0Z","size":2500,"filled":true,"fill":"#f6c6ca","stroke":"#e3202c","strokeWidth":1,"opacity":1}},
  {"data":{"name":"aP"},"mark":{"type":"point","shape":"M-1,0A1,1.1,0,0,0,1,0Z","size":784,"filled":true,"fill":"#c6c8f0","stroke":"#2424d6","strokeWidth":1,"opacity":1}},
  {"data":{"name":"aI"},"transform":[{"filter":"datum.k === 'hm'"}],"mark":{"type":"text","align":"right","baseline":"middle","fontSize":8,"fontStyle":"italic","color":"#333"},"encoding":{"text":{"field":"t"}}},
  {"data":{"name":"aI"},"transform":[{"filter":"datum.k === 'hs'"}],"mark":{"type":"text","align":"left","baseline":"middle","fontSize":6,"dy":2.5,"color":"#333"},"encoding":{"text":{"field":"t"}}},
  {"data":{"name":"aI"},"transform":[{"filter":"datum.k === 'SC'"}],"mark":{"type":"text","align":"center","baseline":"middle","fontSize":13,"color":"#d8202c"},"encoding":{"text":{"field":"t"}}},
  {"data":{"name":"aI"},"transform":[{"filter":"datum.k === 'N'"}],"mark":{"type":"text","align":"center","baseline":"middle","fontSize":13,"color":"#2424c0"},"encoding":{"text":{"field":"t"}}},
  {"data":{"name":"aI"},"transform":[{"filter":"datum.k === 'lt'"}],"mark":{"type":"text","align":"center","baseline":"middle","fontSize":17,"fontStyle":"italic","color":"#111"},"encoding":{"text":{"field":"t"}}},
  {"data":{"name":"aI"},"transform":[{"filter":"datum.k === 'ym'"}],"mark":{"type":"text","align":"right","baseline":"middle","fontSize":15,"fontStyle":"italic","angle":270,"color":"#222"},"encoding":{"text":{"field":"t"}}},
  {"data":{"name":"aI"},"transform":[{"filter":"datum.k === 'ys'"}],"mark":{"type":"text","align":"left","baseline":"middle","fontSize":10,"angle":270,"dy":4,"color":"#222"},"encoding":{"text":{"field":"t"}}}
 ]
},
{
 "width":176,"height":188,
 "resolve":{"axis":{"x":"independent","y":"independent"}},
 "encoding":{
  "x":{"field":"x","type":"quantitative","scale":{"domain":[-1.48,1.5],"nice":false,"zero":false},"axis":null},
  "y":{"field":"y","type":"quantitative","scale":{"domain":[0,1.76],"nice":false,"zero":false},"axis":null}
 },
 "layer":[
  {"data":{"name":"bL"},"mark":{"type":"line","strokeWidth":1.4,"clip":true},
   "encoding":{
    "x":{"field":"x","type":"quantitative","scale":{"domain":[-1.48,1.5],"nice":false,"zero":false},"axis":{"values":[-1.4,-1.2,-1,-0.8,-0.6,-0.4,-0.2,0,0.2,0.4,0.6,0.8,1,1.2,1.4],"labelExpr":"abs(datum.value - round(datum.value)) < 0.000001 ? format(datum.value, 'd') : ''","title":"ε/δ₀"}},
    "y":{"field":"y","type":"quantitative","scale":{"domain":[0,1.76],"nice":false,"zero":false},"axis":{"values":[0,0.1,0.2,0.3,0.4,0.5,0.6,0.7,0.8,0.9,1,1.1,1.2,1.3,1.4,1.5,1.6,1.7],"labelExpr":"datum.value === 0 ? '0' : (abs(datum.value * 2 - round(datum.value * 2)) < 0.000001 ? format(datum.value, '.1f') : '')","title":null}},
    "color":{"field":"J","type":"nominal","scale":{"domain":["0","0.05","0.1","0.15","0.2"],"range":["#000000","#e3202c","#1f8f1f","#2424d6","#f5a623"]},"legend":null}
   }},
  {"data":{"name":"bA"},"mark":{"type":"rule","strokeWidth":0.8},
   "encoding":{
    "x":{"field":"x","type":"quantitative","scale":{"domain":[-1.48,1.5],"nice":false,"zero":false},"axis":{"orient":"top","values":[-1.4,-1.2,-1,-0.8,-0.6,-0.4,-0.2,0,0.2,0.4,0.6,0.8,1,1.2,1.4],"labels":false,"title":null}},
    "y":{"field":"y","type":"quantitative","scale":{"domain":[0,1.76],"nice":false,"zero":false},"axis":{"orient":"right","values":[0,0.1,0.2,0.3,0.4,0.5,0.6,0.7,0.8,0.9,1,1.1,1.2,1.3,1.4,1.5,1.6,1.7],"labels":false,"title":null}},
    "x2":{"field":"x2"},"y2":{"field":"y2"},
    "color":{"field":"J","type":"nominal","scale":{"domain":["0","0.05","0.1","0.15","0.2"],"range":["#000000","#e3202c","#1f8f1f","#2424d6","#f5a623"]},"legend":null}
   }},
  {"data":{"name":"bT"},"mark":{"type":"text","align":"right","baseline":"middle","fontSize":13},
   "encoding":{"text":{"field":"m"},"color":{"field":"J","type":"nominal","scale":{"domain":["0","0.05","0.1","0.15","0.2"],"range":["#000000","#e3202c","#1f8f1f","#2424d6","#f5a623"]},"legend":null}}},
  {"data":{"name":"bT"},"mark":{"type":"text","align":"left","baseline":"middle","fontSize":9,"dy":4},
   "encoding":{"text":{"field":"s"},"color":{"field":"J","type":"nominal","scale":{"domain":["0","0.05","0.1","0.15","0.2"],"range":["#000000","#e3202c","#1f8f1f","#2424d6","#f5a623"]},"legend":null}}},
  {"data":{"name":"bB"},"mark":{"type":"rect","fill":"white","stroke":"#777","strokeWidth":1},
   "encoding":{"x2":{"field":"x2"},"y2":{"field":"y2"}}},
  {"data":{"name":"bP"},"mark":{"type":"point","shape":"M-1,0A1,1.1,0,0,1,1,0Z","size":2500,"filled":true,"fill":"#f6c6ca","stroke":"#e3202c","strokeWidth":1,"opacity":1}},
  {"data":{"name":"bP"},"mark":{"type":"point","shape":"M-1,0A1,1.1,0,0,0,1,0Z","size":2500,"filled":true,"fill":"#c6c8f0","stroke":"#2424d6","strokeWidth":1,"opacity":1}},
  {"data":{"name":"bI"},"transform":[{"filter":"datum.k === 'hm'"}],"mark":{"type":"text","align":"right","baseline":"middle","fontSize":8,"fontStyle":"italic","color":"#333"},"encoding":{"text":{"field":"t"}}},
  {"data":{"name":"bI"},"transform":[{"filter":"datum.k === 'hs'"}],"mark":{"type":"text","align":"left","baseline":"middle","fontSize":6,"dy":2.5,"color":"#333"},"encoding":{"text":{"field":"t"}}},
  {"data":{"name":"bI"},"transform":[{"filter":"datum.k === 'SC'"}],"mark":{"type":"text","align":"center","baseline":"middle","fontSize":13,"color":"#d8202c"},"encoding":{"text":{"field":"t"}}},
  {"data":{"name":"bI"},"transform":[{"filter":"datum.k === 'N'"}],"mark":{"type":"text","align":"center","baseline":"middle","fontSize":13,"color":"#2424c0"},"encoding":{"text":{"field":"t"}}},
  {"data":{"name":"bI"},"transform":[{"filter":"datum.k === 'lt'"}],"mark":{"type":"text","align":"center","baseline":"middle","fontSize":17,"fontStyle":"italic","color":"#111"},"encoding":{"text":{"field":"t"}}}
 ]
},
{
 "width":181,"height":188,
 "resolve":{"axis":{"x":"independent","y":"independent"}},
 "encoding":{
  "x":{"field":"x","type":"quantitative","scale":{"domain":[-1.77,1.75],"nice":false,"zero":false},"axis":null},
  "y":{"field":"y","type":"quantitative","scale":{"domain":[0.995,1.005],"nice":false,"zero":false},"axis":null}
 },
 "layer":[
  {"data":{"name":"cL"},"mark":{"type":"line","strokeWidth":1.4,"clip":true},
   "encoding":{
    "x":{"field":"x","type":"quantitative","scale":{"domain":[-1.77,1.75],"nice":false,"zero":false},"axis":{"values":[-1.6,-1.4,-1.2,-1,-0.8,-0.6,-0.4,-0.2,0,0.2,0.4,0.6,0.8,1,1.2,1.4,1.6],"labelExpr":"abs(datum.value - round(datum.value)) < 0.000001 ? format(datum.value, 'd') : ''","title":"ε/δ₀"}},
    "y":{"field":"y","type":"quantitative","scale":{"domain":[0.995,1.005],"nice":false,"zero":false},"axis":{"values":[0.995,0.996,0.997,0.998,0.999,1,1.001,1.002,1.003,1.004,1.005],"labelExpr":"abs(datum.value * 200 - round(datum.value * 200)) < 0.000001 ? format(datum.value, '.3f') : ''","title":null}},
    "color":{"field":"J","type":"nominal","scale":{"domain":["0","0.05","0.1","0.15","0.2"],"range":["#000000","#e3202c","#1f8f1f","#2424d6","#f5a623"]},"legend":null}
   }},
  {"data":{"name":"cA"},"mark":{"type":"rule","strokeWidth":0.8},
   "encoding":{
    "x":{"field":"x","type":"quantitative","scale":{"domain":[-1.77,1.75],"nice":false,"zero":false},"axis":{"orient":"top","values":[-1.6,-1.4,-1.2,-1,-0.8,-0.6,-0.4,-0.2,0,0.2,0.4,0.6,0.8,1,1.2,1.4,1.6],"labels":false,"title":null}},
    "y":{"field":"y","type":"quantitative","scale":{"domain":[0.995,1.005],"nice":false,"zero":false},"axis":{"orient":"right","values":[0.995,0.996,0.997,0.998,0.999,1,1.001,1.002,1.003,1.004,1.005],"labels":false,"title":null}},
    "x2":{"field":"x2"},"y2":{"field":"y2"},
    "color":{"field":"J","type":"nominal","scale":{"domain":["0","0.05","0.1","0.15","0.2"],"range":["#000000","#e3202c","#1f8f1f","#2424d6","#f5a623"]},"legend":null}
   }},
  {"data":{"name":"cT"},"mark":{"type":"text","align":"right","baseline":"middle","fontSize":13},
   "encoding":{"text":{"field":"m"},"color":{"field":"J","type":"nominal","scale":{"domain":["0","0.05","0.1","0.15","0.2"],"range":["#000000","#e3202c","#1f8f1f","#2424d6","#f5a623"]},"legend":null}}},
  {"data":{"name":"cT"},"mark":{"type":"text","align":"left","baseline":"middle","fontSize":9,"dy":4},
   "encoding":{"text":{"field":"s"},"color":{"field":"J","type":"nominal","scale":{"domain":["0","0.05","0.1","0.15","0.2"],"range":["#000000","#e3202c","#1f8f1f","#2424d6","#f5a623"]},"legend":null}}},
  {"data":{"name":"cB"},"mark":{"type":"rect","fill":"white","stroke":"#777","strokeWidth":1},
   "encoding":{"x2":{"field":"x2"},"y2":{"field":"y2"}}},
  {"data":{"name":"cP"},"mark":{"type":"point","shape":"M-1,0A1,1.2,0,0,0,1,0Z","size":2304,"filled":true,"fill":"#c6c8f0","stroke":"#2424d6","strokeWidth":1,"opacity":1}},
  {"data":{"name":"cP"},"mark":{"type":"point","shape":"M-1,0A1,1,0,0,1,1,0","size":49,"filled":false,"stroke":"#e3202c","strokeWidth":1,"opacity":1}},
  {"data":{"name":"cI"},"transform":[{"filter":"datum.k === 'hm'"}],"mark":{"type":"text","align":"right","baseline":"middle","fontSize":8,"fontStyle":"italic","color":"#333"},"encoding":{"text":{"field":"t"}}},
  {"data":{"name":"cI"},"transform":[{"filter":"datum.k === 'hs'"}],"mark":{"type":"text","align":"left","baseline":"middle","fontSize":6,"dy":2.5,"color":"#333"},"encoding":{"text":{"field":"t"}}},
  {"data":{"name":"cI"},"transform":[{"filter":"datum.k === 'SC'"}],"mark":{"type":"text","align":"center","baseline":"middle","fontSize":12,"color":"#d8202c"},"encoding":{"text":{"field":"t"}}},
  {"data":{"name":"cI"},"transform":[{"filter":"datum.k === 'N'"}],"mark":{"type":"text","align":"center","baseline":"middle","fontSize":12,"color":"#2424c0"},"encoding":{"text":{"field":"t"}}},
  {"data":{"name":"cI"},"transform":[{"filter":"datum.k === 'lt'"}],"mark":{"type":"text","align":"center","baseline":"middle","fontSize":17,"fontStyle":"italic","color":"#111"},"encoding":{"text":{"field":"t"}}}
 ]
}
]
}
